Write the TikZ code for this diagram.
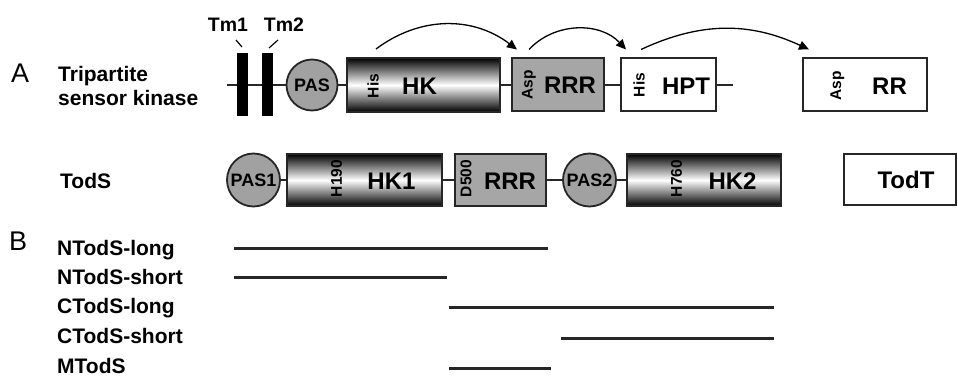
\documentclass[tikz,border=0pt]{standalone}
\usepackage{fontspec}
\setmainfont{Liberation Sans}
\usetikzlibrary{arrows.meta,positioning}

\begin{document}
\begin{tikzpicture}[x=1pt,y=-1pt]
    \tikzstyle{arrow} = [line width=1.3pt, -{Triangle[length=10pt,width=9pt]}]
    \tikzstyle{link} = [line width=1.8pt, draw=black!85]
    \tikzstyle{seg} = [line width=3pt, draw=black!85]
    \tikzstyle{box} = [rectangle, draw=black!85, line width=2pt, inner sep=0pt]
    \tikzstyle{hkbox} = [box, top color=black, bottom color=black, middle color=white]
    \tikzstyle{rrbox} = [box, fill=black!35]
    \tikzstyle{wbox} = [box, fill=white]
    \tikzstyle{pas} = [circle, draw=black!85, line width=1.8pt, fill=black!37, inner sep=0pt, font=\bfseries\fontsize{18}{21}\selectfont]
    \tikzstyle{tm} = [rectangle, fill=black, inner sep=0pt, minimum width=11pt, minimum height=63pt]
    \tikzstyle{big} = [font=\bfseries\fontsize{24}{28}\selectfont, inner sep=0pt, anchor=base]
    \tikzstyle{lbl} = [font=\bfseries\fontsize{21}{25}\selectfont, inner sep=0pt, anchor=base west]
    \tikzstyle{res} = [font=\bfseries\fontsize{15.5}{18}\selectfont, inner sep=0pt, rotate=90]
    \tikzstyle{tmtxt} = [font=\bfseries\fontsize{19.5}{23}\selectfont, inner sep=0pt, anchor=base]
    \tikzstyle{panel} = [font=\fontsize{27}{30}\selectfont, inner sep=0pt, anchor=base west]

    \useasboundingbox (0,0) rectangle (958,377);

    % A: tripartite sensor kinase
    \node[panel](A) at (11,83){A};
    \node[lbl](tripA) at (58,82){Tripartite};
    \node[lbl](tripB) at (58,106){sensor kinase};

    \node[tm](tm1) at (242.5,85){};
    \node[tm](tm2) at (267.5,85){};
    \node[tmtxt](tmA) at (228,32){Tm1};
    \node[tmtxt](tmB) at (284,32){Tm2};
    \draw[line width=1.2pt] ([shift={(8,8)}]tmA.base) -- ++(6,7);
    \draw[line width=1.2pt] ([shift={(-6,8)}]tmB.base) -- ++(-9,8);

    \node[pas, minimum size=51pt](pas) at (312,85){PAS};
    \node[hkbox, minimum width=153pt, minimum height=54pt](hk) at (423.5,85){};
    \node[rrbox, minimum width=92pt, minimum height=53pt](rrr) at (558,85){};
    \node[wbox, minimum width=95pt, minimum height=53pt](hpt) at (668.5,85){};
    \node[wbox, minimum width=124pt, minimum height=53pt](rr) at (865,85){};

    \node[res] at (373,86){His};
    \node[big] at (419.5,95){HK};
    \node[res] at (529,85){Asp};
    \node[big] at (570,94){RRR};
    \node[res] at (639,85){His};
    \node[big] at (686,95){HPT};
    \node[res] at (837.5,86){Asp};
    \node[big] at (889.5,95){RR};

    \coordinate (startA) at (227,85);
    \coordinate (endA) at (733,85);
    \draw[link] (startA) -- (tm1) -- (tm2) -- (pas) -- (hk) -- (rrr) -- (hpt) -- (endA);

    \draw[arrow] ([shift={(30,-8)}]hk.north west) to[bend left=37] ([shift={(6,-8)}]rrr.north west);
    \draw[arrow] ([shift={(18,-8)}]rrr.north west) to[bend left=47] ([shift={(6,-8)}]hpt.north west);
    \draw[arrow] ([shift={(21,-8)}]hpt.north west) to[bend left=25] ([shift={(7,-8)}]rr.north west);

    % TodS
    \node[lbl](tods) at (60,188){TodS};
    \node[pas, minimum size=53pt](pas1) at (253.5,180){PAS1};
    \node[hkbox, minimum width=155pt, minimum height=52pt](hk1) at (364.5,180){};
    \node[rrbox, minimum width=91pt, minimum height=52pt](rrr2) at (500.5,180){};
    \node[pas, minimum size=53pt](pas2) at (589.5,180){PAS2};
    \node[hkbox, minimum width=154pt, minimum height=52pt](hk2) at (704,180){};
    \node[wbox, minimum width=112pt, minimum height=51pt](todt) at (900,179.5){};

    \node[res] at (336.5,178.5){H190};
    \node[big] at (391.5,189){HK1};
    \node[res] at (466,178.5){D500};
    \node[big] at (510,189){RRR};
    \node[res] at (676.5,178.5){H760};
    \node[big] at (732.5,189){HK2};
    \node[big] at (906,188){TodT};

    \draw[link] (pas1) -- (hk1) -- (rrr2) -- (pas2) -- (hk2);

    % B: fragments
    \node[panel](B) at (9,250){B};
    \foreach \name/\lab/\yb/\ya/\xa/\xb in {nl/NTodS-long/255/248/234/548,
        ns/NTodS-short/284/277/234/447,
        cl/CTodS-long/313/307/449/774,
        cs/CTodS-short/343/338/561/774,
        m/MTodS/373/368/449/551}
    {
        \node[lbl](\name) at (57,\yb){\lab};
        \coordinate (\name-a) at (\xa,\ya);
        \coordinate (\name-b) at (\xb,\ya);
        \draw[seg] (\name-a) -- (\name-b);
    }
\end{tikzpicture}
\end{document}
